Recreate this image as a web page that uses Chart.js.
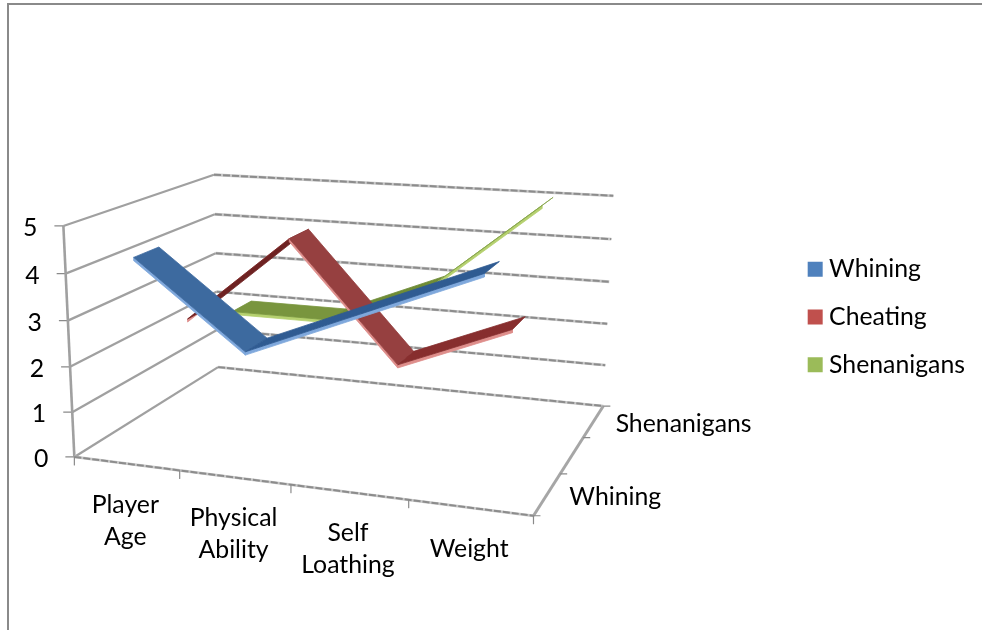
<!DOCTYPE html>
<html>
<head>
<meta charset="utf-8">
<style>
  html, body { margin: 0; padding: 0; background: #fff; overflow: hidden; }
  #frame { position: absolute; left: 7px; top: 3px; width: 1200px; height: 900px; border-top: 2px solid #8a8a8a; border-left: 2px solid #8a8a8a; }
  #wrap { position: absolute; left: 0; top: 0; width: 982px; height: 630px; filter: blur(0.4px); }
</style>
<script src="https://cdn.jsdelivr.net/npm/chart.js@4"></script>
</head>
<body>
<div id="frame"></div>
<div id="wrap"><canvas id="chart" width="982" height="630"></canvas></div>
<script>
const categories = [["Player", "Age"], ["Physical", "Ability"], ["Self", "Loathing"], ["Weight"]];
const seriesNames = ["Whining", "Cheating", "Shenanigans"];
const whining = [4.3, 2.5, 3.5, 4.5];
const cheating = [2.4, 4.4, 1.8, 2.8];
const shenanigans = [2, 2, 3, 5];
const valueTicks = [0, 1, 2, 3, 4, 5];
const depthLabels = ["Whining", "Shenanigans"]; // excel skips the middle one
const depthLabelSlots = [0, 2];

const legendColors = ["#4F81BD", "#C0504D", "#9BBB59"];
const topColors = [
    ["#3D6A9F", "#2F5B92", "#2F5B92"],
    ["#6E2222", "#964040", "#872E2E"],
    ["#79953E", "#6F8C36", "#86A44C"]
];
const edgeColors = ["#7FA8DC", "#DE8E8B", "#B5D06F"];
const gridColor = "#A0A0A0";
const gridDark = "#8C8C8C";
const gridSoft = "#C8C8C8";
const LABEL_FONT = "24.8px Lato";

// box corners in page pixels, perspective is solved from these
const O = [73, 458], A = [533, 517], B = [217, 368], C = [603, 407], D = [62, 226.5];
const wBend = -0.04;

function solveBends() {
    const a1 = C[0] - A[0], b1 = C[0] - B[0], c1 = A[0] + B[0] - O[0] - C[0];
    const a2 = C[1] - A[1], b2 = C[1] - B[1], c2 = A[1] + B[1] - O[1] - C[1];
    const det = a1 * b2 - a2 * b1;
    return [(c1 * b2 - c2 * b1) / det, (a1 * c2 - a2 * c1) / det];
}
const [uBend, vBend] = solveBends();

// u along categories, v along series, w up the value axis, all 0..1
function project(u, v, w) {
    const den = 1 + uBend * u + vBend * v + wBend * w;
    const f = (k) => (O[k] + (A[k] * (1 + uBend) - O[k]) * u + (B[k] * (1 + vBend) - O[k]) * v + (D[k] * (1 + wBend) - O[k]) * w) / den;
    return { x: f(0), y: f(1) };
}

const catU = (i) => (i + 0.5) / categories.length;
const valW = (val) => val / valueTicks[valueTicks.length - 1];

const datasets = [];
function addLine(points, color, width, dash) {
    datasets.push({ data: points, showLine: true, borderColor: color, borderWidth: width, borderDash: dash || [], pointRadius: 0, fill: false, borderJoinStyle: "round" });
}
// the reference lines are resampled so they look stepped along the shallow runs
function addSteppedLine(points) {
    addLine(points, gridSoft, 2.8);
    addLine(points, gridDark, 2, [7, 2]);
}
function addShape(points, color) {
    datasets.push({ data: [...points, points[0]], showLine: true, borderColor: color, borderWidth: 0.8, backgroundColor: color, pointRadius: 0, fill: "shape" });
}
const shift = (p, dx, dy) => ({ x: p.x + dx, y: p.y + dy });

// walls and floor
valueTicks.forEach(t => {
    const w = valW(t);
    addLine([project(0, 0, w), project(0, 1, w)], gridColor, 2.3);
    addSteppedLine([project(0, 1, w), project(1, 1, w)]);
    addLine([shift(project(0, 0, w), -9, 0), project(0, 0, w)], "#8a8a8a", 1.2);
});
addLine([project(0, 0, 0), project(0, 0, 1)], gridColor, 2.6);
addSteppedLine([project(0, 0, 0), project(1, 0, 0)]);
addLine([project(1, 0, 0), project(1, 1, 0)], "#A6A6A6", 3);
for (let i = 0; i <= categories.length; i++) {
    const p = project(i / categories.length, 0, 0);
    addLine([p, shift(p, 0, 8)], "#8a8a8a", 1.2);
}
for (let s = 0; s <= seriesNames.length; s++) {
    const p = project(1, s / seriesNames.length, 0);
    addLine([p, shift(p, 7, 0)], "#8a8a8a", 1.2);
}

// ribbons, back series first so nearer ones paint over them
const RIBBON_DEPTH = 0.47, RIBBON_DROP = 0.014;
function addRibbon(values, slot) {
    const n = seriesNames.length;
    const vFront = (slot + (1 - RIBBON_DEPTH) / 2) / n;
    const vBack = (slot + (1 + RIBBON_DEPTH) / 2) / n;
    for (let i = 0; i < values.length - 1; i++) {
        const u0 = catU(i), u1 = catU(i + 1), w0 = valW(values[i]), w1 = valW(values[i + 1]);
        addShape([project(u0, vFront, w0), project(u1, vFront, w1), project(u1, vFront, w1 - RIBBON_DROP), project(u0, vFront, w0 - RIBBON_DROP)], edgeColors[slot]);
        addShape([project(u0, vFront, w0), project(u1, vFront, w1), project(u1, vBack, w1), project(u0, vBack, w0)], topColors[slot][i]);
    }
}
addRibbon(shenanigans, 2);
addRibbon(cheating, 1);
addRibbon(whining, 0);

const axisText = {
    id: "axisText",
    afterDraw(chart) {
        const ctx = chart.ctx, sx = chart.scales.x, sy = chart.scales.y;
        const at = (p) => [sx.getPixelForValue(p.x), sy.getPixelForValue(p.y)];
        ctx.save();
        ctx.font = LABEL_FONT;
        ctx.fillStyle = "#000";
        ctx.textBaseline = "middle";
        ctx.textAlign = "right";
        valueTicks.forEach(t => {
            const [x, y] = at(project(0, 0, valW(t)));
            ctx.fillText(String(t), x - 26, y + 2);
        });
        ctx.textAlign = "center";
        categories.forEach((lines, i) => {
            const [x, y] = at(project(catU(i), 0, 0));
            lines.forEach((line, k) => ctx.fillText(line, x - 1, y + 41 + k * 32));
        });
        ctx.textAlign = "left";
        depthLabels.forEach((label, i) => {
            const [x, y] = at(project(1, (depthLabelSlots[i] + 0.5) / seriesNames.length, 0));
            ctx.fillText(label, x + 22, y + 3);
        });
        ctx.restore();
    }
};

const chart = new Chart(document.getElementById("chart"), {
    type: "scatter",
    data: { datasets: datasets.reverse() }, // chart.js paints the first dataset last
    options: {
        responsive: false,
        animation: false,
        layout: { padding: { right: 7, top: 4 } },
        plugins: {
            tooltip: { enabled: false },
            legend: {
                position: "right",
                labels: {
                    font: { family: "Lato", size: 24.8 },
                    color: "#000",
                    boxWidth: 3,
                    boxHeight: 3,
                    padding: 23,
                    generateLabels: () => seriesNames.map((name, i) => ({
                        text: name, fillStyle: legendColors[i], strokeStyle: legendColors[i], lineWidth: 12
                    }))
                }
            }
        },
        scales: {
            x: { type: "linear", display: false, min: 0, max: 982 },
            y: { type: "linear", display: false, min: 0, max: 630, reverse: true }
        }
    },
    plugins: [axisText]
});

// legend takes room from the plot, so the ranges have to match what is left
chart.options.scales.x.max = chart.chartArea.right;
chart.options.scales.y.min = chart.chartArea.top;
chart.update("none");
</script>
</body>
</html>
